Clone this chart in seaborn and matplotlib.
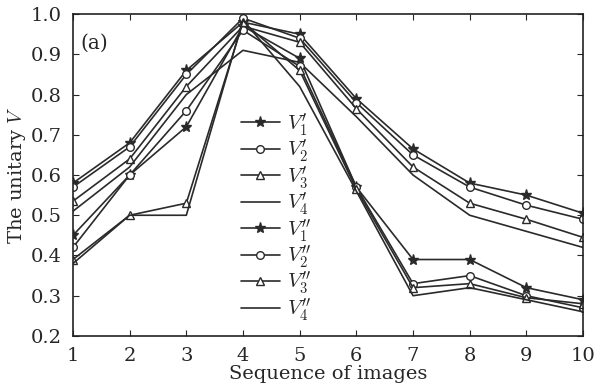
import numpy as np
import pandas as pd
import matplotlib
matplotlib.use("Agg")
import matplotlib.pyplot as plt
import seaborn as sns

sns.set_theme(style="ticks")
plt.rcParams['font.family'] = ['DejaVu Serif', 'Liberation Serif']
plt.rcParams['mathtext.fontset'] = 'cm'

seq = [1, 2, 3, 4, 5, 6, 7, 8, 9, 10]
v1p = [0.58, 0.68, 0.86, 0.98, 0.95, 0.79, 0.665, 0.58, 0.55, 0.505]
v2p = [0.57, 0.67, 0.85, 0.99, 0.94, 0.78, 0.65, 0.57, 0.525, 0.49]
v3p = [0.535, 0.64, 0.82, 0.97, 0.93, 0.765, 0.62, 0.53, 0.49, 0.445]
v4p = [0.51, 0.62, 0.80, 0.91, 0.88, 0.745, 0.60, 0.50, 0.46, 0.42]
v1pp = [0.45, 0.60, 0.72, 0.97, 0.89, 0.57, 0.39, 0.39, 0.32, 0.29]
v2pp = [0.42, 0.60, 0.76, 0.96, 0.87, 0.57, 0.33, 0.35, 0.30, 0.27]
v3pp = [0.39, 0.50, 0.53, 0.98, 0.86, 0.565, 0.32, 0.33, 0.295, 0.28]
v4pp = [0.38, 0.50, 0.50, 0.985, 0.82, 0.56, 0.30, 0.32, 0.29, 0.26]

labels = [r"$V_1'$", r"$V_2'$", r"$V_3'$", r"$V_4'$",
          r"$V_1''$", r"$V_2''$", r"$V_3''$", r"$V_4''$"]
series = [v1p, v2p, v3p, v4p, v1pp, v2pp, v3pp, v4pp]
markers = ['*', 'o', '^', None, '*', 'o', '^', None]
filled = [True, False, False, False, True, False, False, False]

fig = plt.figure(figsize=(5.98, 3.92), dpi=100)
ax = fig.add_axes([0.122, 0.143, 0.853, 0.821])

for vals, lab, m, f in zip(series, labels, markers, filled):
    df = pd.DataFrame({'x': seq, 'y': vals})
    kw = dict(color='#2a2a2a', linewidth=1.2, label=lab)
    if m is not None:
        kw.update(marker=m, markersize=8 if m == '*' else 5.5,
                  markerfacecolor='#2a2a2a' if f else 'white',
                  markeredgecolor='#2a2a2a', markeredgewidth=1.0)
    sns.lineplot(data=df, x='x', y='y', ax=ax, **kw)

ax.set_xlim(1, 10)
ax.set_ylim(0.2, 1.0)
ax.set_xticks(seq)
yt = [0.2, 0.3, 0.4, 0.5, 0.6, 0.7, 0.8, 0.9, 1.0]
ax.set_yticks(yt)
ax.set_yticklabels([f"{t:.1f}" for t in yt])
ax.tick_params(direction='in', top=True, right=True, length=4, width=0.8,
               labelsize=14, pad=8)
ax.tick_params(axis='y', pad=8)
for s in ax.spines.values():
    s.set_linewidth(1.2)
    s.set_color('#222222')

ax.set_xlabel("Sequence of images", fontsize=14, labelpad=0)
ax.set_ylabel("The unitary $\\mathit{V}$", fontsize=14, labelpad=2)
ax.text(0.015, 0.94, "(a)", transform=ax.transAxes, fontsize=14.5,
        ha='left', va='top')

leg = ax.legend(loc='upper left', bbox_to_anchor=(0.30, 0.745), frameon=False,
                fontsize=15, handlelength=1.9, labelspacing=-0.02,
                handletextpad=0.35, borderpad=0.2)

fig.savefig("out.png", dpi=100)
